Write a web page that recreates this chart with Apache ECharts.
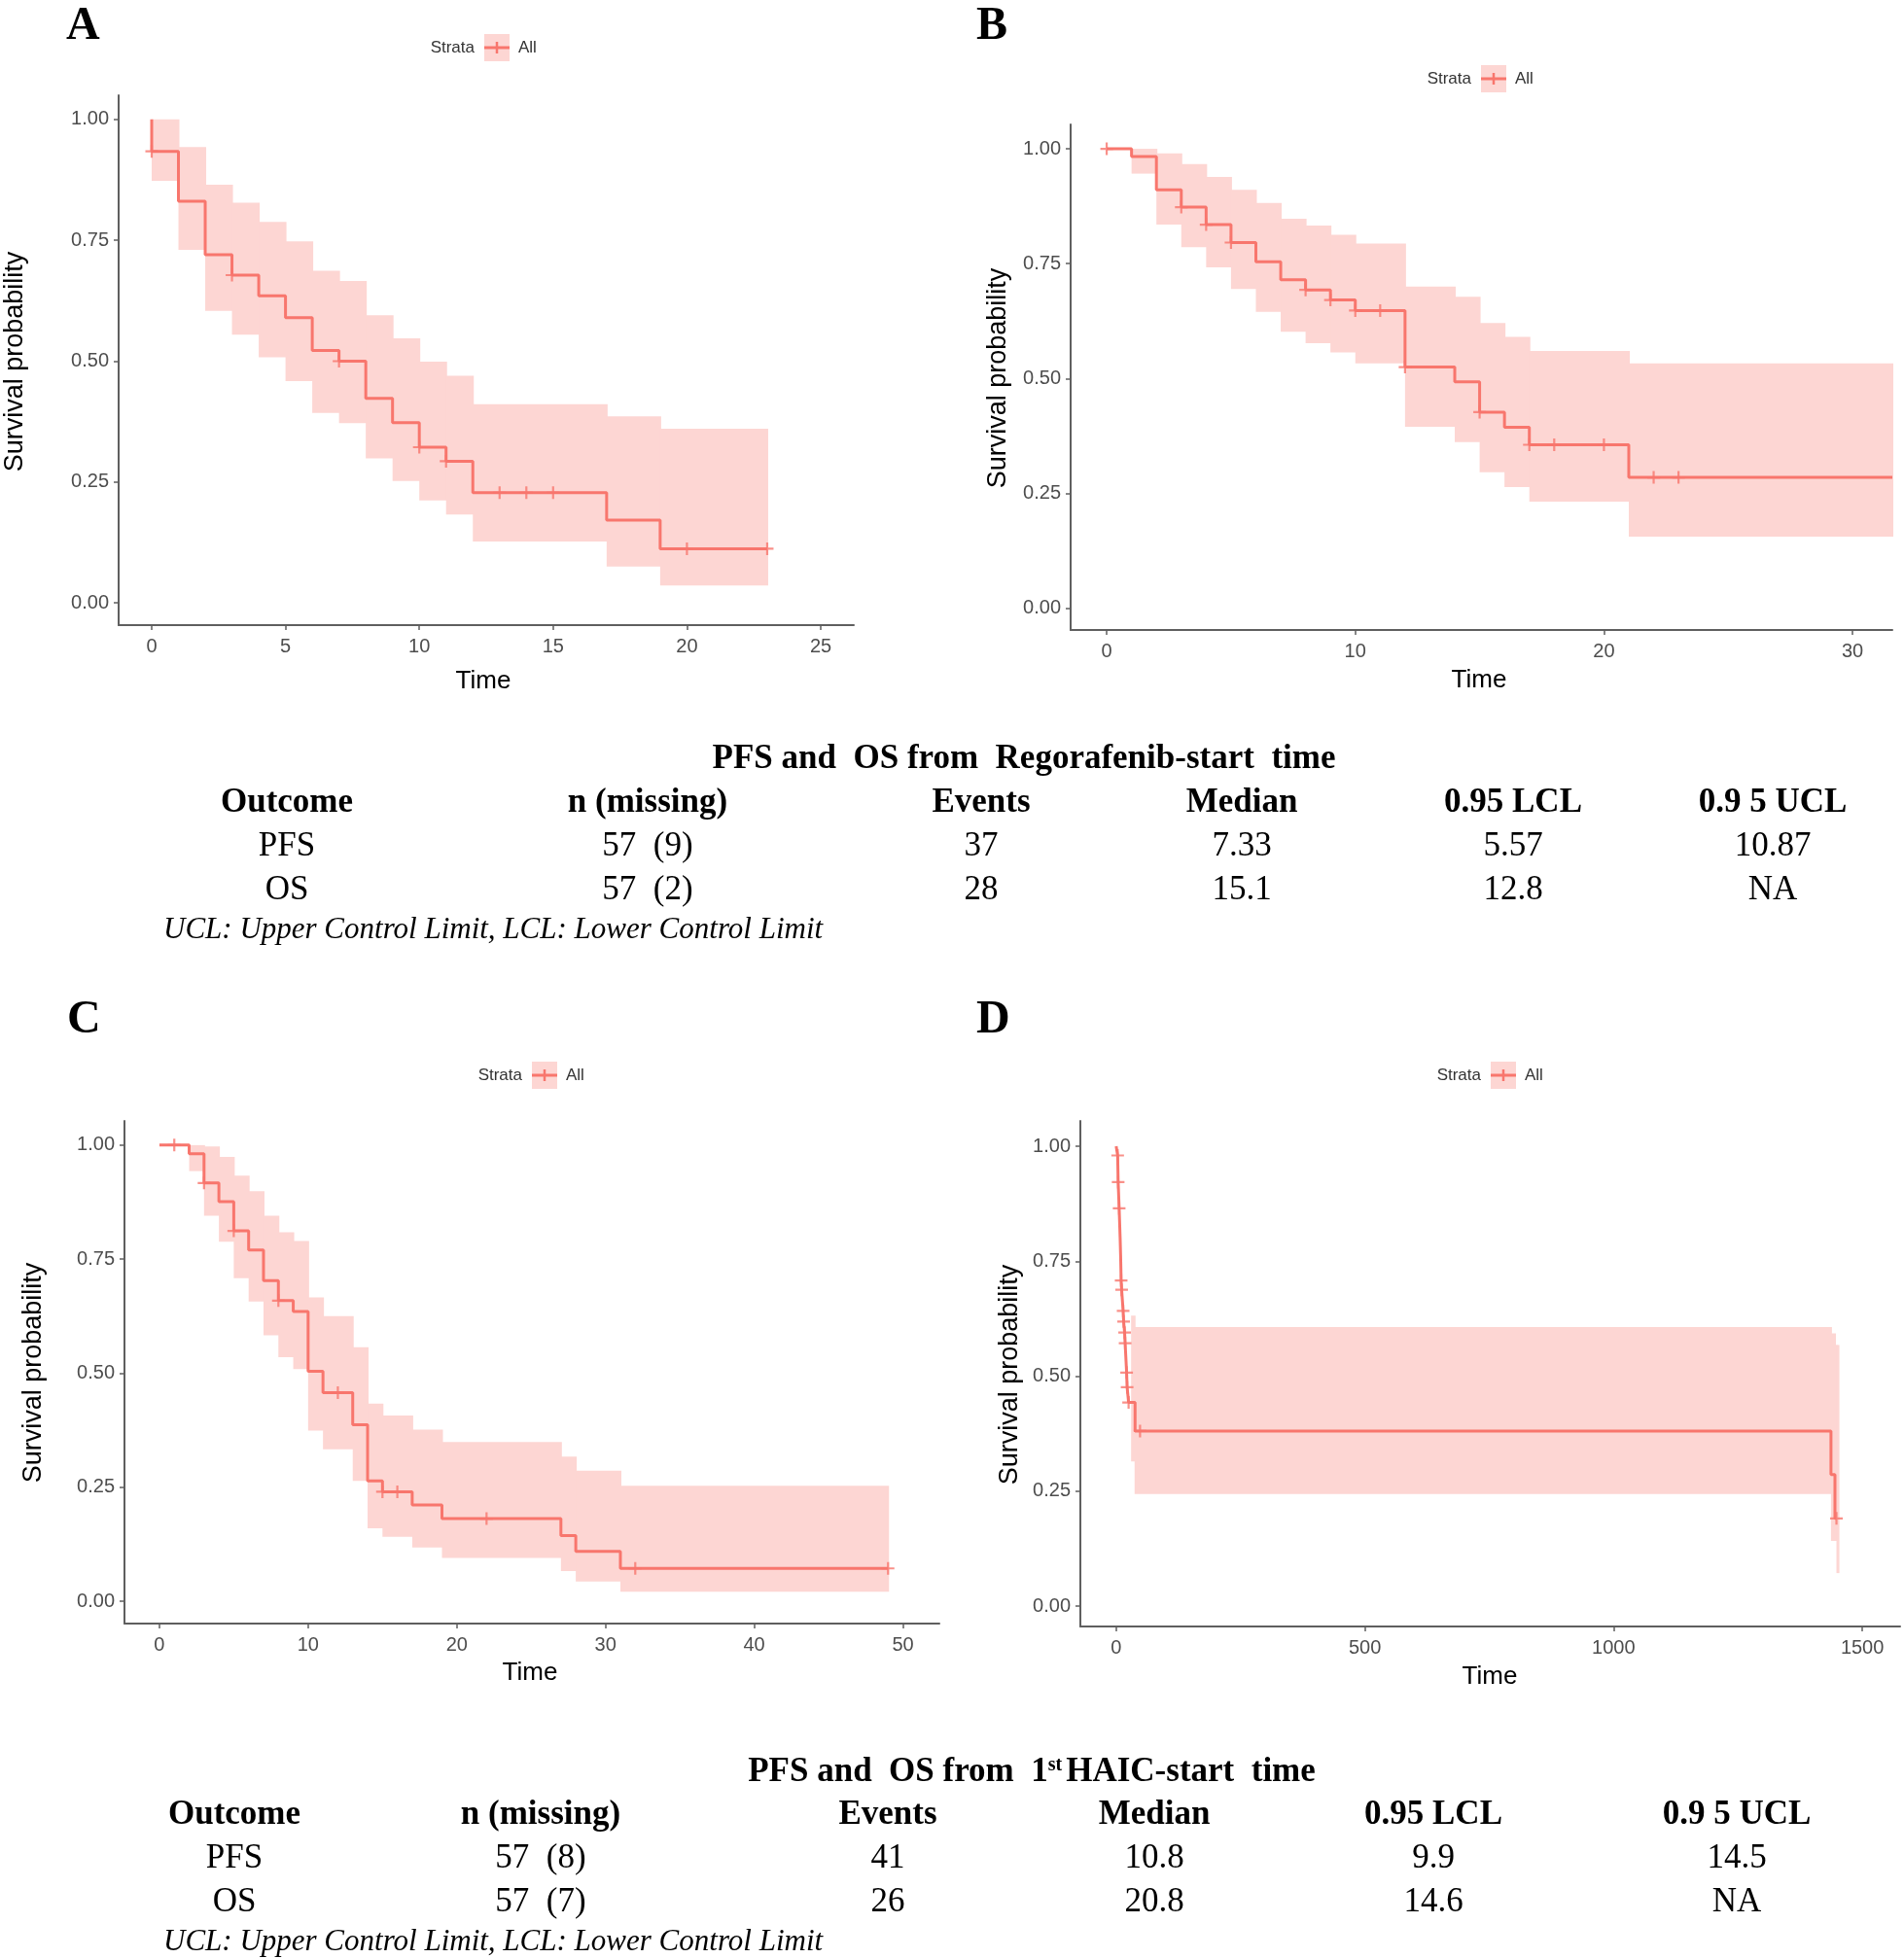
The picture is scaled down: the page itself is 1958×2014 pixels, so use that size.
<!doctype html>
<html lang="en">
<head>
<meta charset="utf-8">
<title>Kaplan-Meier curves</title>
<script src="https://cdn.jsdelivr.net/npm/echarts@6.0.0/dist/echarts.min.js"></script>
<style>
  html, body { margin: 0; padding: 0; background: #fff; }
  #main { width: 1958px; height: 2014px; }
</style>
</head>
<body>
<div id="main"></div>
<script>
// ---- panel A: PFS from regorafenib start ----
var aTimes = [0, 0, 1, 2, 3, 4, 5, 6, 7, 8, 9, 10, 11, 12, 17, 19, 23];
var aSurv  = [1, 0.934, 0.831, 0.72, 0.678, 0.635, 0.59, 0.522, 0.5, 0.423, 0.373, 0.322, 0.293, 0.228, 0.171, 0.112, 0.112];
var aCensorT = [0, 3, 7, 10, 11, 13, 14, 15, 20, 23];
var aCensorS = [0.934, 0.678, 0.5, 0.322, 0.293, 0.228, 0.228, 0.228, 0.112, 0.112];
// [from, to, lower, upper]
var aBand = [[0,1,0.873,1.0],[1,2,0.730,0.943],[2,3,0.604,0.865],[3,4,0.555,0.828],[4,5,0.508,0.788],
  [5,6,0.459,0.748],[6,7,0.393,0.687],[7,8,0.372,0.666],[8,9,0.299,0.595],[9,10,0.252,0.547],
  [10,11,0.212,0.499],[11,12,0.183,0.470],[12,17,0.127,0.411],[17,19,0.075,0.386],[19,23,0.036,0.360]];

// ---- panel B: OS from regorafenib start ----
var bTimes = [0, 1, 2, 3, 4, 5, 6, 7, 8, 9, 10, 12, 14, 15, 16, 17, 21, 31.6];
var bSurv  = [1, 0.983, 0.911, 0.873, 0.835, 0.796, 0.754, 0.715, 0.693, 0.671, 0.648, 0.525, 0.493, 0.427, 0.394, 0.356, 0.285, 0.285];
var bCensorT = [0, 3, 4, 5, 8, 9, 10, 11, 12, 15, 17, 18, 20, 22, 23];
var bCensorS = [1, 0.873, 0.835, 0.796, 0.693, 0.671, 0.648, 0.648, 0.525, 0.427, 0.356, 0.356, 0.356, 0.285, 0.285];
var bBand = [[1,2,0.946,1.0],[2,3,0.835,0.990],[3,4,0.786,0.967],[4,5,0.742,0.939],[5,6,0.695,0.911],
  [6,7,0.645,0.882],[7,8,0.602,0.848],[8,9,0.577,0.833],[9,10,0.557,0.813],[10,12,0.533,0.794],
  [12,14,0.395,0.700],[14,15,0.362,0.678],[15,16,0.296,0.621],[16,17,0.264,0.591],[17,21,0.232,0.560],
  [21,31.6,0.156,0.533]];

// ---- panel C: PFS from 1st HAIC start ----
var cTimes = [0, 2, 3, 4, 5, 6, 7, 8, 9, 10, 11, 13, 14, 15, 17, 19, 27, 28, 31, 49];
var cSurv  = [1, 0.981, 0.917, 0.876, 0.812, 0.770, 0.703, 0.659, 0.635, 0.504, 0.457, 0.387, 0.264, 0.240, 0.211, 0.181, 0.144, 0.109, 0.072, 0.072];
var cCensorT = [1, 3, 5, 8, 12, 15, 16, 22, 32, 49];
var cCensorS = [1, 0.917, 0.812, 0.659, 0.457, 0.240, 0.240, 0.181, 0.072, 0.072];
var cBand = [[2,3,0.943,1.0],[3,4,0.845,0.997],[4,5,0.788,0.974],[5,6,0.708,0.933],[6,7,0.657,0.899],
  [7,8,0.583,0.845],[8,9,0.535,0.809],[9,10,0.509,0.790],[10,11,0.374,0.666],[11,13,0.333,0.625],
  [13,14,0.264,0.557],[14,15,0.160,0.433],[15,17,0.141,0.407],[17,19,0.118,0.376],[19,27,0.095,0.349],
  [27,28,0.066,0.317],[28,31,0.043,0.286],[31,49,0.021,0.253]];

// ---- panel D: OS from 1st HAIC start ----
var dTimes = [0, 3, 4, 6, 8, 9, 10, 11, 14, 15, 17, 18, 21, 22, 25, 38, 1437, 1445, 1448];
var dSurv  = [1, 0.98, 0.922, 0.865, 0.80, 0.76, 0.708, 0.688, 0.642, 0.619, 0.595, 0.572, 0.508, 0.476, 0.443, 0.381, 0.286, 0.191, 0.191];
var dCensorT = [3, 4, 6, 10, 11, 14, 15, 17, 18, 21, 22, 25, 48, 1448];
var dCensorS = [0.98, 0.922, 0.865, 0.708, 0.688, 0.642, 0.619, 0.595, 0.572, 0.508, 0.476, 0.443, 0.381, 0.191];
var dBand = [[30,37,0.315,0.632],[37,1437,0.244,0.607],[1437,1445,0.142,0.593],[1445,1448,0.142,0.568],
  [1448,1452,0.072,0.568]];

// ---- summary tables ----
var tableHeader = ['Outcome', 'n (missing)', 'Events', 'Median', '0.95 LCL', '0.9 5 UCL'];
var table1Rows = [
  ['PFS', '57  (9)', '37', '7.33', '5.57', '10.87'],
  ['OS',  '57  (2)', '28', '15.1', '12.8', 'NA']
];
var table2Rows = [
  ['PFS', '57  (8)', '41', '10.8', '9.9', '14.5'],
  ['OS',  '57  (7)', '26', '20.8', '14.6', 'NA']
];
var footnote = 'UCL: Upper Control Limit, LCL: Lower Control Limit';

var lineColor = '#F8766D';
var bandColor = '#FDD6D3';
var axisColor = '#5f5f5f';
var sans = '"Liberation Sans", Arial, sans-serif';
var serif = '"Liberation Serif", "Times New Roman", serif';
var plusPath = 'path://M-0.17,-1 H0.17 V-0.17 H1 V0.17 H0.17 V1 H-0.17 V0.17 H-1 V-0.17 H-0.17 Z';

var panels = [
  { letter: 'A', times: aTimes, surv: aSurv, ct: aCensorT, cs: aCensorS, band: aBand,
    grid: { left: 122, top: 98, width: 756, height: 545 }, xmin: -1.235, xmax: 26.235,
    ymin: -0.046, ymax: 1.05, xticks: [0, 5, 10, 15, 20, 25],
    letterPos: [68, 4], legendPos: [511, 49], ytitle: [16, 372], xtitle: [497, 701] },
  { letter: 'B', times: bTimes, surv: bSurv, ct: bCensorT, cs: bCensorS, band: bBand,
    grid: { left: 1101, top: 128, width: 845, height: 520 }, xmin: -1.45, xmax: 31.6,
    ymin: -0.047, ymax: 1.053, xticks: [0, 10, 20, 30],
    letterPos: [1004, 4], legendPos: [1536, 81], ytitle: [1027, 389], xtitle: [1521, 700] },
  { letter: 'C', times: cTimes, surv: cSurv, ct: cCensorT, cs: cCensorS, band: cBand,
    grid: { left: 128, top: 1153, width: 838, height: 517 }, xmin: -2.35, xmax: 52.45,
    ymin: -0.049, ymax: 1.053, xticks: [0, 10, 20, 30, 40, 50],
    letterPos: [69, 1026], legendPos: [560, 1106], ytitle: [35, 1412], xtitle: [545, 1721] },
  { letter: 'D', times: dTimes, surv: dSurv, ct: dCensorT, cs: dCensorS, band: dBand,
    grid: { left: 1111, top: 1153, width: 843, height: 520 }, xmin: -72, xmax: 1576,
    ymin: -0.044, ymax: 1.055, xticks: [0, 500, 1000, 1500],
    letterPos: [1004, 1026], legendPos: [1546, 1106], ytitle: [1039, 1414], xtitle: [1532, 1725] }
];

function renderBand(params, api) {
  var p0 = api.coord([api.value(0), api.value(3)]);
  var p1 = api.coord([api.value(1), api.value(2)]);
  return {
    type: 'rect',
    shape: { x: p0[0], y: p0[1], width: p1[0] - p0[0] + 1, height: p1[1] - p0[1] },
    style: { fill: bandColor }
  };
}

var grids = [], xAxes = [], yAxes = [], series = [], graphics = [];

panels.forEach(function (p, i) {
  grids.push(p.grid);
  xAxes.push({
    type: 'value', gridIndex: i, min: p.xmin, max: p.xmax,
    splitLine: { show: false },
    axisLine: { show: true, onZero: false, lineStyle: { color: axisColor, width: 2 } },
    axisTick: { show: true, length: 5, customValues: p.xticks, lineStyle: { color: axisColor, width: 1.5 } },
    axisLabel: { customValues: p.xticks, margin: 12, fontSize: 20, fontFamily: sans, color: '#4d4d4d',
      formatter: function (v) { return String(v); } }
  });
  yAxes.push({
    type: 'value', gridIndex: i, min: p.ymin, max: p.ymax,
    splitLine: { show: false },
    axisLine: { show: true, onZero: false, lineStyle: { color: axisColor, width: 2 } },
    axisTick: { show: true, length: 5, customValues: [0, 0.25, 0.5, 0.75, 1], lineStyle: { color: axisColor, width: 1.5 } },
    axisLabel: { customValues: [0, 0.25, 0.5, 0.75, 1], margin: 10, fontSize: 20, fontFamily: sans, color: '#4d4d4d',
      formatter: function (v) { return v.toFixed(2); } }
  });

  series.push({
    type: 'custom', xAxisIndex: i, yAxisIndex: i, renderItem: renderBand,
    encode: { x: [0, 1], y: [2, 3] }, data: p.band, silent: true, z: 1
  });
  series.push({
    type: 'line', xAxisIndex: i, yAxisIndex: i, step: 'end', showSymbol: false,
    data: p.times.map(function (t, k) { return [t, p.surv[k]]; }),
    lineStyle: { color: lineColor, width: 3 }, z: 2
  });
  series.push({
    type: 'scatter', xAxisIndex: i, yAxisIndex: i, symbol: plusPath, symbolSize: 13,
    data: p.ct.map(function (t, k) { return [t, p.cs[k]]; }),
    itemStyle: { color: lineColor }, z: 3
  });

  // panel letter
  graphics.push({ type: 'text', x: p.letterPos[0], y: p.letterPos[1],
    style: { text: p.letter, font: 'bold 48px ' + serif, fill: '#000' } });
  // legend: Strata [+] All
  var lx = p.legendPos[0], ly = p.legendPos[1];
  graphics.push({ type: 'text', x: lx - 23, y: ly,
    style: { text: 'Strata', font: '17px ' + sans, fill: '#333', align: 'right', verticalAlign: 'middle' } });
  graphics.push({ type: 'rect', shape: { x: lx - 13, y: ly - 14, width: 26, height: 28 }, style: { fill: bandColor } });
  graphics.push({ type: 'line', shape: { x1: lx - 13, y1: ly, x2: lx + 13, y2: ly }, style: { stroke: lineColor, lineWidth: 3 } });
  graphics.push({ type: 'line', shape: { x1: lx, y1: ly - 6, x2: lx, y2: ly + 6 }, style: { stroke: lineColor, lineWidth: 2.5 } });
  graphics.push({ type: 'text', x: lx + 22, y: ly,
    style: { text: 'All', font: '17px ' + sans, fill: '#333', align: 'left', verticalAlign: 'middle' } });
  // axis titles
  graphics.push({ type: 'text', x: p.ytitle[0], y: p.ytitle[1], rotation: Math.PI / 2,
    style: { text: 'Survival probability', font: '27px ' + sans, fill: '#000', align: 'center', verticalAlign: 'middle' } });
  graphics.push({ type: 'text', x: p.xtitle[0], y: p.xtitle[1],
    style: { text: 'Time', font: '26px ' + sans, fill: '#000', align: 'center', verticalAlign: 'middle' } });
});

// tables
function addTable(titleRich, titleX, titleY, colX, rows, y0) {
  graphics.push({ type: 'text', x: titleX, y: titleY,
    style: { text: titleRich, align: 'center', verticalAlign: 'middle', fill: '#000',
      font: 'bold 35px ' + serif,
      rich: {
        b: { font: 'bold 35px ' + serif, fill: '#000' },
        sup: { font: 'bold 20px ' + serif, fill: '#000', verticalAlign: 'top', padding: [0, 4, 15, 0] }
      } } });
  tableHeader.forEach(function (h, k) {
    graphics.push({ type: 'text', x: colX[k], y: y0,
      style: { text: h, font: 'bold 35px ' + serif, fill: '#000', align: 'center', verticalAlign: 'middle' } });
  });
  rows.forEach(function (r, ri) {
    r.forEach(function (v, k) {
      graphics.push({ type: 'text', x: colX[k], y: y0 + 45 * (ri + 1),
        style: { text: v, font: '35px ' + serif, fill: '#000', align: 'center', verticalAlign: 'middle' } });
    });
  });
  graphics.push({ type: 'text', x: 168, y: y0 + 131,
    style: { text: footnote, font: 'italic 31px ' + serif, fill: '#000', align: 'left', verticalAlign: 'middle' } });
}

addTable('{b|PFS and  OS from  Regorafenib-start  time}', 1053, 781,
  [295, 666, 1009, 1277, 1556, 1823], table1Rows, 826);
addTable('{b|PFS and  OS from  1}{sup|st}{b|HAIC-start  time}', 1061, 1823,
  [241, 556, 913, 1187, 1474, 1786], table2Rows, 1867);

var myChart = echarts.init(document.getElementById('main'));
myChart.setOption({
  animation: false,
  backgroundColor: '#fff',
  grid: grids,
  xAxis: xAxes,
  yAxis: yAxes,
  series: series,
  graphic: graphics
});
</script>
</body>
</html>
